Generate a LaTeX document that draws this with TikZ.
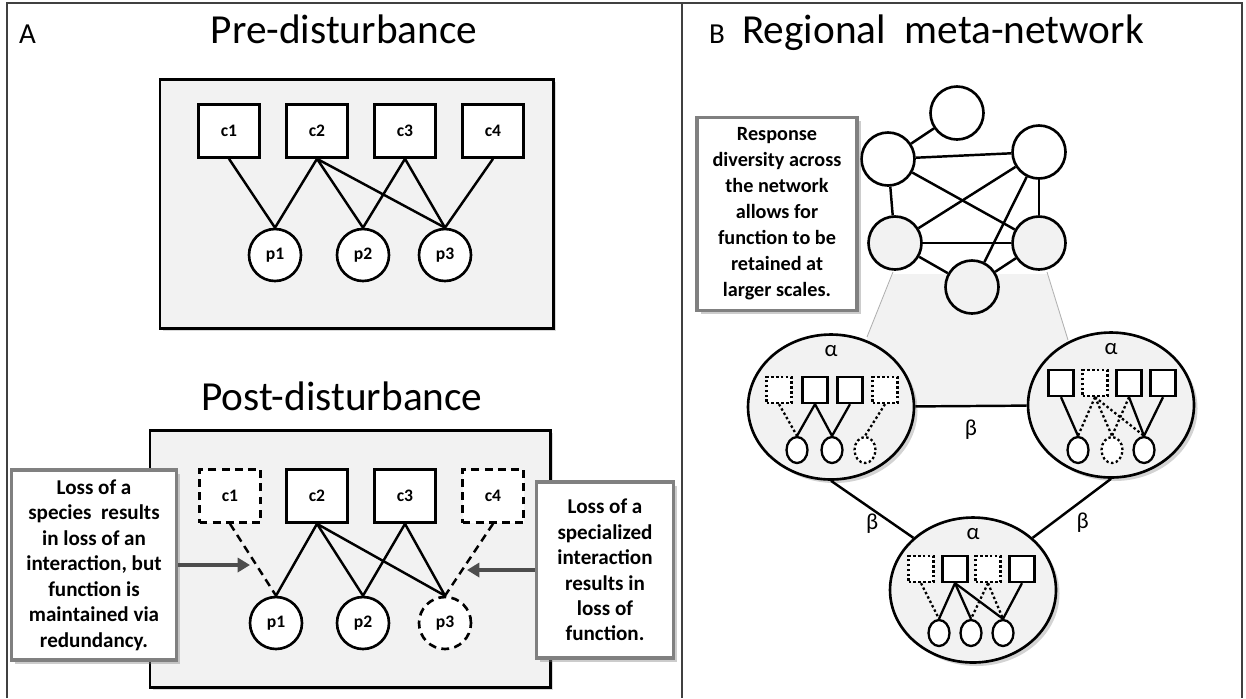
\documentclass[tikz,border=0pt]{standalone}
\usepackage{fontspec}
\setmainfont{Carlito}
\usetikzlibrary{shapes.geometric,shadows,arrows.meta}
\definecolor{panelgray}{HTML}{F2F2F2}
\definecolor{notegray}{HTML}{808080}
\definecolor{arrowgray}{HTML}{4D4D4D}

\begin{document}
\begin{tikzpicture}[
    x=0.02cm, y=-0.02cm,
    frame/.style={draw=black!75, line width=0.7pt},
    panel/.style={draw=black, line width=1.7pt, fill=panelgray,
                  drop shadow={shadow xshift=1.5pt, shadow yshift=-1.5pt,
                               opacity=0.3}},
    cons/.style={rectangle, draw=black, fill=white, line width=1.5pt,
                 minimum width=1.22cm, minimum height=1.06cm,
                 font=\bfseries\fontsize{10}{12}\selectfont},
    poll/.style={circle, draw=black, fill=white, line width=1.5pt,
                 minimum size=1.04cm, inner sep=0pt,
                 font=\bfseries\fontsize{10}{12}\selectfont},
    lost/.style={dash pattern=on 4.5pt off 3pt},
    link/.style={line width=1.4pt},
    note/.style={rectangle, draw=notegray, line width=1.8pt, fill=white,
                 align=center, inner sep=2pt,
                 font=\bfseries\fontsize{12}{14.5}\selectfont,
                 drop shadow={shadow xshift=2pt, shadow yshift=-2pt,
                              opacity=0.4}},
    pointer/.style={-{Triangle[length=7pt, width=8pt]}, line width=2.3pt,
                    draw=arrowgray},
    title/.style={font=\fontsize{23.5}{28}\selectfont, anchor=base},
    letter/.style={font=\fontsize{16.5}{20}\selectfont, anchor=base west},
    greek/.style={font=\fontsize{13}{15}\selectfont, inner sep=1pt},
    patch/.style={circle, draw=black, fill=white, line width=1.5pt,
                  minimum size=1.06cm, inner sep=0pt},
    site/.style={ellipse, draw=black, fill=panelgray, line width=1.5pt,
                 minimum width=3.32cm, minimum height=2.9cm, inner sep=0pt,
                 drop shadow={shadow xshift=2pt, shadow yshift=-2pt,
                              opacity=0.35}},
    sp/.style={rectangle, draw=black, fill=white, line width=1.3pt,
               minimum width=0.5cm, minimum height=0.52cm, inner sep=0pt},
    res/.style={ellipse, draw=black, fill=white, line width=1.3pt,
                minimum width=0.42cm, minimum height=0.52cm, inner sep=0pt},
    gone/.style={dash pattern=on 1.4pt off 1.4pt},
    mini/.style={line width=1.3pt},
]
\useasboundingbox (0,0) rectangle (1246,698);

% Frame and divider
\draw[frame] (7,698) -- (7,3) -- (1242,3) -- (1242,698);
\draw[frame] (682,3) -- (682,698);

% Panel A titles
\node[letter] (lettera) at (13,43) {A};
\node[title] (pretitle) at (344,43) {Pre-disturbance};
\node[title] (posttitle) at (342,410) {Post-disturbance};

% Pre-disturbance web
\draw[panel] (160,79) rectangle (553,328);
\node[cons] (c1pre) at (229,131) {c1};
\node[cons] (c2pre) at (317,131) {c2};
\node[cons] (c3pre) at (405,131) {c3};
\node[cons] (c4pre) at (493,131) {c4};
\node[poll] (p1pre) at (275,255) {p1};
\node[poll] (p2pre) at (363,255) {p2};
\node[poll] (p3pre) at (445,255) {p3};
\draw[link] (c1pre.south) -- (p1pre.north);
\draw[link] (c2pre.south) -- (p1pre.north);
\draw[link] (c2pre.south) -- (p2pre.north);
\draw[link] (c2pre.south) -- (p3pre.north);
\draw[link] (c3pre.south) -- (p2pre.north);
\draw[link] (c3pre.south) -- (p3pre.north);
\draw[link] (c4pre.south) -- (p3pre.north);

% Post-disturbance web -- lost species dashed
\draw[panel] (150,430) rectangle (550,687);
\node[cons, lost] (c1post) at (230,496) {c1};
\node[cons] (c2post) at (317,496) {c2};
\node[cons] (c3post) at (405,496) {c3};
\node[cons, lost] (c4post) at (493,496) {c4};
\node[poll] (p1post) at (276,623) {p1};
\node[poll] (p2post) at (363,623) {p2};
\node[poll, lost] (p3post) at (445,623) {p3};
\draw[link, lost] (c1post.south) -- (p1post.north);
\draw[link] (c2post.south) -- (p1post.north);
\draw[link] (c2post.south) -- (p2post.north);
\draw[link] (c2post.south) -- (p3post.north);
\draw[link] (c3post.south) -- (p2post.north);
\draw[link] (c3post.south) -- (p3post.north);
\draw[link, lost] (c4post.south) -- (p3post.north);

% Callouts
\node[note, minimum width=3.3cm, minimum height=3.8cm] (lnote) at (94,565)
     {Loss of a\\species\ \ results\\in loss of an\\interaction, but\\
      function is\\maintained via\\redundancy.};
\node[note, minimum width=2.74cm, minimum height=3.52cm] (rnote) at (605,570)
     {Loss of a\\specialized\\interaction\\results in\\loss of\\function.};
\coordinate (ltip) at (250,565);
\coordinate (rtip) at (467,570);
\draw[pointer] (lnote) -- (ltip);
\draw[pointer] (rnote) -- (rtip);

% Panel B titles
\node[letter] (letterb) at (703,43) {B};
\node[title] (regtitle) at (943,43) {Regional\ \ meta-network};

% Shaded funnel from network down to sites
\fill[panelgray] (893,274) -- (1047,274) -- (1068,340) -- (1068,404)
                 -- (867,404) -- (867,337) -- cycle;
\draw[black!30, line width=0.5pt] (893,272) -- (867,337);
\draw[black!30, line width=0.5pt] (1047,272) -- (1068,340);

% Meta-network of patches
\node[patch] (ptop) at (957,113) {};
\node[patch] (pnw) at (888,159) {};
\node[patch] (pne) at (1039,152) {};
\node[patch, fill=panelgray] (psw) at (895,243) {};
\node[patch, fill=panelgray] (pse) at (1039,243) {};
\node[patch, fill=panelgray] (pbot) at (972,287) {};
\draw[link] (ptop) -- (pnw);
\draw[link] (pnw) -- (pne);
\draw[link] (pnw) -- (pse);
\draw[link] (pnw) -- (psw);
\draw[link] (pne) -- (psw);
\draw[link] (pne) -- (pbot);
\draw[link] (pne) -- (pse);
\draw[link] (psw) -- (pse);
\draw[link] (psw) -- (pbot);
\draw[link] (pbot) -- (pse);

\node[note, minimum width=3.2cm, minimum height=3.86cm,
      font=\bfseries\fontsize{11.5}{14.8}\selectfont] (bnote) at (777,214)
     {Response\\diversity across\\the network\\allows for\\function to be\\
      retained at\\larger scales.};

% Local sites
\node[site] (lsite) at (831,407) {};
\node[site] (rsite) at (1111,405) {};
\node[site] (bsite) at (973,590) {};
\node[greek] (alphal) at ([yshift=-10pt]lsite.north) {α};
\node[greek] (alphar) at ([yshift=-10pt]rsite.north) {α};
\node[greek] (alphab) at ([yshift=-10pt]bsite.north) {α};
\draw[link] (lsite) -- (rsite) node[greek, midway, below=6pt] (betam) {β};
\draw[link] (lsite.south) -- (bsite.north west)
      node[greek, midway, below=1pt] (betal) {β};
\draw[link] (rsite.south) -- (bsite.north east)
      node[greek, midway, below right=1pt] (betar) {β};

% Left site
\node[sp, gone] (ls1) at (779,390) {};
\node[sp] (ls2) at (815,390) {};
\node[sp] (ls3) at (850,390) {};
\node[sp, gone] (ls4) at (885,390) {};
\node[res] (le1) at (797,450) {};
\node[res] (le2) at (832,450) {};
\node[res, gone] (le3) at (865,450) {};
\draw[mini, gone] (ls1.south) -- (le1.north);
\draw[mini] (ls2.south) -- (le1.north);
\draw[mini] (ls2.south) -- (le2.north);
\draw[mini] (ls3.south) -- (le2.north);
\draw[mini, gone] (ls4.south) -- (le3.north);

% Right site
\node[sp] (rs1) at (1061,383) {};
\node[sp, gone] (rs2) at (1095,383) {};
\node[sp] (rs3) at (1129,383) {};
\node[sp] (rs4) at (1163,383) {};
\node[res] (re1) at (1078,450) {};
\node[res, gone] (re2) at (1112,450) {};
\node[res] (re3) at (1144,450) {};
\draw[mini] (rs1.south) -- (re1.north);
\draw[mini, gone] (rs2.south) -- (re1.north);
\draw[mini, gone] (rs2.south) -- (re2.north);
\draw[mini, gone] (rs2.south) -- (re3.north);
\draw[mini, gone] (rs3.south) -- (re2.north);
\draw[mini] (rs3.south) -- (re3.north);
\draw[mini] (rs4.south) -- (re3.north);

% Bottom site
\node[sp, gone] (bs1) at (921,569) {};
\node[sp] (bs2) at (955,569) {};
\node[sp, gone] (bs3) at (988,569) {};
\node[sp] (bs4) at (1022,569) {};
\node[res] (be1) at (939,633) {};
\node[res] (be2) at (971,633) {};
\node[res] (be3) at (1003,633) {};
\draw[mini, gone] (bs1.south) -- (be1.north);
\draw[mini] (bs2.south) -- (be1.north);
\draw[mini] (bs2.south) -- (be2.north);
\draw[mini] (bs2.south) -- (be3.north);
\draw[mini, gone] (bs3.south) -- (be2.north);
\draw[mini, gone] (bs3.south) -- (be3.north);
\draw[mini] (bs4.south) -- (be3.north);

\end{tikzpicture}
\end{document}
